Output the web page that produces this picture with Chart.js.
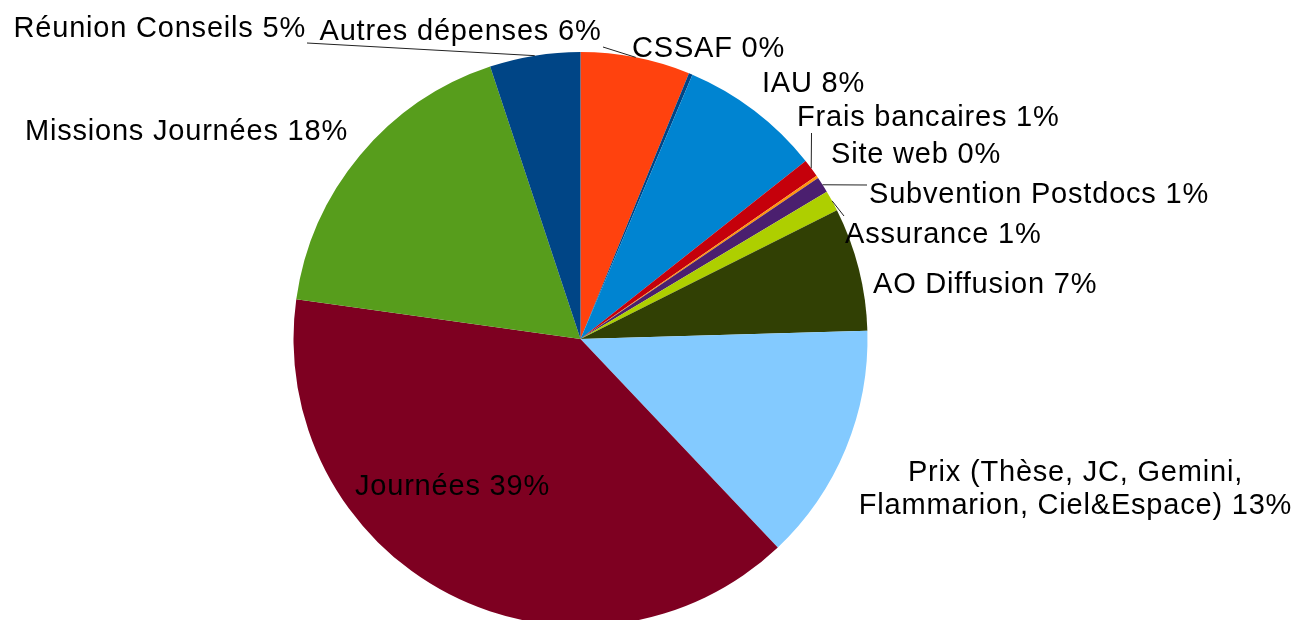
<!DOCTYPE html>
<html><head><meta charset="utf-8">
<script src="https://cdn.jsdelivr.net/npm/chart.js@4.4.0/dist/chart.umd.min.js"></script>
<style>html,body{margin:0;padding:0;background:#fff;overflow:hidden}#wrap{width:1301px;height:620px;position:relative}</style>
</head><body><div id="wrap"><canvas id="c" width="1301" height="620"></canvas></div>
<script>
// ---- data (clockwise from 12 o'clock) ----
const categories = [
  "Autres dépenses",
  "CSSAF",
  "IAU",
  "Frais bancaires",
  "Site web",
  "Subvention Postdocs",
  "Assurance",
  "AO Diffusion",
  "Prix (Thèse, JC, Gemini,\nFlammarion, Ciel&Espace)",
  "Journées",
  "Missions Journées",
  "Réunion Conseils"
];
const shares = [6.17, 0.21, 7.98, 1.02, 0.15, 0.90, 1.17, 6.96, 13.4, 39.3, 17.7, 5.1];
const colors = ["#ff420e","#004586","#0084d1","#c5000b","#ff950e","#4b1f6f","#aecf00","#314004","#83caff","#7e0021","#579d1c","#004586"];

// ---- label layout (text placement only) ----
const labelLayout = [
  {x:460.5, y:39.5, align:'center', leader:[603,47]},
  {x:632, y:57, align:'left'},
  {x:762, y:92, align:'left'},
  {x:797, y:126, align:'left', leader:[811.5,133]},
  {x:831, y:163, align:'left'},
  {x:869, y:203, align:'left', leader:[867,185]},
  {x:845, y:243, align:'left', leader:[844,216]},
  {x:873, y:293, align:'left'},
  {x:1075.5, y:481, align:'center', lh:33.3},
  {x:355, y:495, align:'left'},
  {x:348, y:140, align:'right'},
  {x:306, y:37, align:'right', leader:[307,43]}
];

const total = shares.reduce((a,b)=>a+b,0);

const labelPlugin = {
  id:'sliceLabels',
  afterDatasetsDraw(chart){
    const ctx = chart.ctx;
    const meta = chart.getDatasetMeta(0);
    ctx.save();
    ctx.font = '29px "Liberation Sans", Arial, sans-serif';
    ctx.fillStyle = '#000';
    ctx.textBaseline = 'alphabetic';
    try { ctx.letterSpacing = '0.8px'; } catch(e) {}
    meta.data.forEach((arc,i)=>{
      const L = labelLayout[i];
      const p = arc.getProps(['x','y','startAngle','endAngle','outerRadius'], true);
      const mid = (p.startAngle + p.endAngle)/2;
      if (L.leader) {
        ctx.beginPath();
        ctx.strokeStyle = '#222';
        ctx.lineWidth = 1;
        ctx.moveTo(p.x + Math.cos(mid)*p.outerRadius, p.y + Math.sin(mid)*p.outerRadius);
        ctx.lineTo(L.leader[0], L.leader[1]);
        ctx.stroke();
      }
      const pct = Math.round(shares[i]/total*100);
      const lines = (categories[i] + ' ' + pct + '%').split('\n');
      ctx.textAlign = L.align;
      lines.forEach((t,k)=>ctx.fillText(t, L.x, L.y + k*(L.lh||0)));
    });
    ctx.restore();
  }
};

new Chart(document.getElementById('c'), {
  type:'pie',
  data:{
    labels: categories,
    datasets:[{data: shares, backgroundColor: colors, borderWidth: 0, radius: 287, clip: false}]
  },
  options:{
    responsive:false,
    animation:false,
    layout:{padding:{top:58, bottom:0, left:0, right:140}},
    plugins:{legend:{display:false}, tooltip:{enabled:false}}
  },
  plugins:[labelPlugin]
});
</script>
</body></html>
